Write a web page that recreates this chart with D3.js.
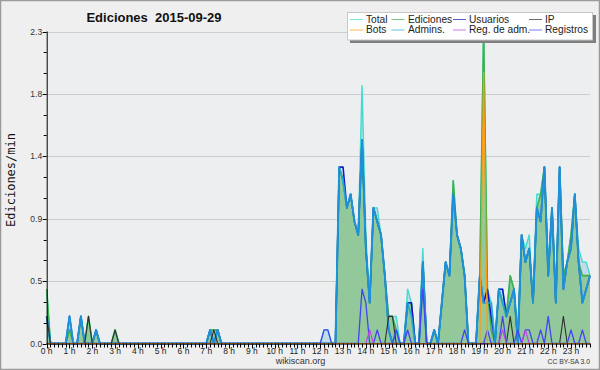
<!DOCTYPE html>
<html><head><meta charset="utf-8">
<script src="https://cdn.jsdelivr.net/npm/d3@7"></script>
<style>body{margin:0;background:#f0f0f0}svg{display:block}</style>
</head><body><svg id="c" width="600" height="370"></svg>
<script>
// ---- data (edits per minute, 10-minute bins, 144 bins from 00:00 to 23:50) ----
const hourLabels = ["0 h","1 h","2 h","3 h","4 h","5 h","6 h","7 h","8 h","9 h","10 h","11 h",
  "12 h","13 h","14 h","15 h","16 h","17 h","18 h","19 h","20 h","21 h","22 h","23 h"];
const binsPerHour = 6;
const total = [
 0.4,0,0,0,0,0,0.2,0,0,0.2,0,0.2,
 0,0.1,0,0,0,0,0.1,0,0,0,0,0,
 0,0,0,0,0,0,0,0,0,0,0,0,
 0,0,0,0,0,0,0,0.1,0.1,0.1,0,0,
 0,0,0,0,0,0,0,0,0,0,0,0,
 0,0,0,0,0,0,0,0,0,0,0,0,
 0,0.1,0.1,0,0,1.3,1.2,1.0,1.1,0.9,0.8,1.9,
 0.8,0.3,1.0,1.0,0.8,0.5,0.2,0.2,0.2,0,0,0.4,
 0.3,0,0,0.7,0,0,0.1,0,0.3,0.6,0.5,1.2,
 0.8,0.7,0.5,0,0,0,0.5,2.3,0.4,0.3,0,0.4,
 0.4,0.2,0.5,0.4,0.1,0.8,0.7,0.8,0.3,1.1,1.1,1.3,
 0.6,1.0,0.4,1.3,0.5,0.6,0.8,1.1,0.7,0.6,0.6,0.5];
const ediciones = [
 0.4,0,0,0,0,0,0.1,0,0,0.2,0,0.2,
 0,0.1,0,0,0,0,0.1,0,0,0,0,0,
 0,0,0,0,0,0,0,0,0,0,0,0,
 0,0,0,0,0,0,0,0.1,0.1,0.1,0,0,
 0,0,0,0,0,0,0,0,0,0,0,0,
 0,0,0,0,0,0,0,0,0,0,0,0,
 0,0,0,0,0,1.3,1.2,1.0,1.1,0.9,0.8,1.5,
 0.7,0.3,1.0,0.9,0.8,0.5,0.2,0.2,0.1,0,0,0.3,
 0.3,0,0,0.6,0,0,0.1,0,0.3,0.6,0.5,1.2,
 0.8,0.7,0.5,0,0,0,0.5,2.3,0.4,0.1,0,0.4,
 0.3,0.2,0.5,0.4,0,0.8,0.6,0.7,0.3,1.0,1.1,1.3,
 0.5,1.0,0.3,1.3,0.5,0.6,0.8,1.1,0.6,0.5,0.5,0.5];
const usuarios = [
 0.2,0,0,0,0,0,0.2,0,0,0.2,0,0,
 0,0.1,0,0,0,0,0,0,0,0,0,0,
 0,0,0,0,0,0,0,0,0,0,0,0,
 0,0,0,0,0,0,0,0.1,0,0.1,0,0,
 0,0,0,0,0,0,0,0,0,0,0,0,
 0,0,0,0,0,0,0,0,0,0,0,0,
 0,0,0,0,0,1.3,1.3,1.0,1.1,0.9,0.8,1.5,
 0.7,0.3,1.0,0.9,0.8,0.5,0.1,0,0,0,0,0.3,
 0.3,0,0,0.6,0,0,0.1,0,0.3,0.6,0.5,1.1,
 0.8,0.7,0.5,0,0,0,0.5,0.3,0.4,0.2,0,0.4,
 0.4,0.2,0.3,0.4,0,0.8,0.6,0.7,0.3,1.0,0.9,1.3,
 0.5,1.0,0.3,1.3,0.4,0.6,0.7,1.1,0.6,0.3,0.4,0.5];
const ip = [
 0.2,0,0,0,0,0,0,0,0,0,0,0.2,
 0,0,0,0,0,0,0.1,0,0,0,0,0,
 0,0,0,0,0,0,0,0,0,0,0,0,
 0,0,0,0,0,0,0,0,0.1,0,0,0,
 0,0,0,0,0,0,0,0,0,0,0,0,
 0,0,0,0,0,0,0,0,0,0,0,0,
 0,0,0,0,0,0,0,0,0,0,0,0,
 0,0,0,0,0,0,0.2,0.2,0,0,0,0,
 0,0,0,0,0,0,0,0,0,0,0,0,
 0,0,0,0,0,0,0,0,0,0,0,0,
 0,0,0.2,0,0,0,0,0,0,0,0,0,
 0,0,0,0,0.2,0,0,0,0,0,0,0];
const bots = [
 0,0,0,0,0,0,0,0,0,0,0,0,
 0,0,0,0,0,0,0,0,0,0,0,0,
 0,0,0,0,0,0,0,0,0,0,0,0,
 0,0,0,0,0,0,0,0,0,0,0,0,
 0,0,0,0,0,0,0,0,0,0,0,0,
 0,0,0,0,0,0,0,0,0,0,0,0,
 0,0,0,0,0,0,0,0,0,0,0,0,
 0,0,0,0,0,0,0,0,0,0,0,0,
 0,0,0,0,0,0,0,0,0,0,0,0,
 0,0,0,0,0,0,0,2.0,0,0,0,0,
 0,0,0,0,0,0,0,0,0,0,0,0,
 0,0,0,0,0,0,0,0,0,0,0,0];
const admins = [
 0.2,0,0,0,0,0,0.2,0,0,0.2,0,0,
 0,0.1,0,0,0,0,0,0,0,0,0,0,
 0,0,0,0,0,0,0,0,0,0,0,0,
 0,0,0,0,0,0,0,0.1,0,0.1,0,0,
 0,0,0,0,0,0,0,0,0,0,0,0,
 0,0,0,0,0,0,0,0,0,0,0,0,
 0,0,0,0,0,1.3,1.2,1.0,1.1,0.9,0.8,1.5,
 0.7,0.3,1.0,0.9,0.8,0.5,0.1,0,0.1,0,0,0.3,
 0.2,0,0,0.6,0,0,0.1,0,0.3,0.6,0.5,1.1,
 0.8,0.7,0.5,0,0,0,0.5,0.3,0.3,0.3,0,0.4,
 0.3,0.2,0.3,0.4,0,0.8,0.6,0.7,0.3,1.0,0.9,1.3,
 0.5,1.0,0.3,1.3,0.4,0.6,0.7,1.1,0.6,0.3,0.4,0.5];
const regAdm = [
 0,0,0,0,0,0,0,0,0,0,0,0,
 0,0,0,0,0,0,0,0,0,0,0,0,
 0,0,0,0,0,0,0,0,0,0,0,0,
 0,0,0,0,0,0,0,0,0,0,0,0,
 0,0,0,0,0,0,0,0,0,0,0,0,
 0,0,0,0,0,0,0,0,0,0,0,0,
 0,0,0,0,0,0,0,0,0,0,0,0,
 0,0.1,0,0,0,0,0,0,0,0,0,0,
 0,0,0,0,0,0,0,0,0,0,0,0,
 0,0,0,0,0,0,0,0,0,0,0,0,
 0.1,0,0,0,0,0,0.1,0,0,0,0,0,
 0,0,0,0,0,0,0,0,0,0,0,0];
const registros = [
 0,0,0,0,0,0,0,0,0,0,0,0,
 0,0,0,0,0,0,0,0,0,0,0,0,
 0,0,0,0,0,0,0,0,0,0,0,0,
 0,0,0,0,0,0,0,0,0,0,0,0,
 0,0,0,0,0,0,0,0,0,0,0,0,
 0,0,0,0,0,0,0,0,0,0,0,0,
 0,0.1,0.1,0,0,0,0,0,0,0,0,0.4,
 0.3,0,0,0.1,0,0,0,0,0.1,0,0,0.1,
 0,0,0,0.4,0,0,0,0,0,0,0,0,
 0,0,0.1,0,0,0,0,0,0.1,0,0,0,
 0.2,0,0,0,0.1,0,0.1,0.1,0,0,0.1,0,
 0.2,0,0,0,0,0,0.1,0,0,0.1,0,0];
const yTickValues = [0, 0.46, 0.92, 1.38, 1.84, 2.3];
const yTickLabels = ["0.0","0.5","0.9","1.4","1.8","2.3"];
const yMax = 2.3;
const titleText = "Ediciones  2015-09-29";
const yAxisTitle = "Ediciones/min";
const legendNames = [["Total","Ediciones","Usuarios","IP"],["Bots","Admins.","Reg. de adm.","Registros"]];

// ---- drawing ----
const svg = d3.select("#c");
const W = 600, H = 370;
const L = 46.7, R = 590, T = 31.5, B = 343.5;
const nBins = total.length;
const x = d3.scaleLinear().domain([0, nBins - 1]).range([L, R]);
const y = d3.scaleLinear().domain([0, yMax]).range([B, T]);

svg.append("rect").attr("x",0.5).attr("y",0.5).attr("width",W-1).attr("height",H-1)
  .attr("fill","#efefef").attr("stroke","#9a9a9a").attr("stroke-width",1.5);
svg.append("rect").attr("x",L).attr("y",T).attr("width",R-L).attr("height",B-T).attr("fill","#eceef0");

// grid
svg.append("g").selectAll("line").data(yTickValues.slice(1)).join("line")
  .attr("x1",L).attr("x2",R).attr("y1",d=>Math.round(y(d))+0.5).attr("y2",d=>Math.round(y(d))+0.5)
  .attr("stroke","#cdcdcd").attr("stroke-width",1);

const idx = d3.range(nBins);
const area = arr => d3.area().x(i=>x(i)).y0(B).y1(i=>y(arr[i]))(idx);
const line = arr => d3.line().x(i=>x(i)).y(i=>y(arr[i]))(idx);

svg.append("path").attr("d", area(total)).attr("fill","#c4dcea");
svg.append("path").attr("d", area(ediciones)).attr("fill","#93c99a");

const styles = {
  total:{c:"#3fdccf",w:1.4},
  ediciones:{c:"#3fb04a",w:1.6},
  usuarios:{c:"#1414c8",w:1.6},
  admins:{c:"#1ea6dc",w:2.0,o:0.85},
  ip:{c:"#303030",w:1.1},
  bots:{c:"#ff9a10",w:1.2},
  regAdm:{c:"#c040e0",w:1.1},
  registros:{c:"#4444f4",w:1.3}
};
const series = [["total",total],["ediciones",ediciones],["usuarios",usuarios],["admins",admins],
  ["ip",ip],["registros",registros],["regAdm",regAdm],["bots",bots]];
series.forEach(([k,arr])=>{
  const s = styles[k];
  svg.append("path").attr("d", line(arr)).attr("fill","none").attr("stroke",s.c)
    .attr("stroke-width",s.w).attr("stroke-opacity",s.o||1).attr("stroke-linejoin","round");
});

// axes
const ax = svg.append("g");
ax.append("line").attr("x1",L).attr("x2",R).attr("y1",B+0.5).attr("y2",B+0.5).attr("stroke","#000");
ax.append("line").attr("x1",L+0.5).attr("x2",L+0.5).attr("y1",T).attr("y2",B+0.5).attr("stroke","#000");
// x ticks
ax.selectAll("line.xt").data(idx).join("line").attr("class","xt")
  .attr("x1",i=>Math.round(x(i))+0.5).attr("x2",i=>Math.round(x(i))+0.5)
  .attr("y1",B).attr("y2",i=> i%binsPerHour===0 ? B+5 : B+4).attr("stroke","#000");
ax.selectAll("text.xl").data(hourLabels).join("text").attr("class","xl")
  .attr("x",(d,h)=>x(h*binsPerHour)).attr("y",354).attr("text-anchor","middle")
  .attr("font-family","Liberation Sans, Arial, sans-serif").attr("font-size",8.5).attr("fill","#222").text(d=>d);
// y ticks
const minor = d3.range(0,16).map(k=>k*yMax/15);
ax.selectAll("line.ym").data(minor).join("line").attr("class","ym")
  .attr("x1",(d,k)=> k%3===0 ? L-4 : L-3).attr("x2",L).attr("y1",d=>Math.round(y(d))+0.5).attr("y2",d=>Math.round(y(d))+0.5)
  .attr("stroke","#000");
ax.selectAll("text.yl").data(yTickValues).join("text").attr("class","yl")
  .attr("x",L-4.5).attr("y",d=>y(d)+3).attr("text-anchor","end")
  .attr("font-family","Liberation Sans, Arial, sans-serif").attr("font-size",8.5).attr("fill","#333")
  .text((d,k)=>yTickLabels[k]);

// titles
svg.append("text").attr("x",154).attr("y",22).attr("text-anchor","middle")
  .attr("font-family","Liberation Sans, Arial, sans-serif").attr("font-weight","bold").attr("font-size",13)
  .attr("fill","#111").attr("xml:space","preserve").style("white-space","pre").text(titleText);
svg.append("text").attr("transform","translate(15,180) rotate(-90)").attr("text-anchor","middle")
  .attr("font-family","DejaVu Sans Mono, monospace").attr("font-size",12).attr("fill","#111").text(yAxisTitle);
svg.append("text").attr("x",300.5).attr("y",364).attr("text-anchor","middle")
  .attr("font-family","Liberation Sans, Arial, sans-serif").attr("font-size",9).attr("fill","#333").text("wikiscan.org");
svg.append("text").attr("x",590).attr("y",364).attr("text-anchor","end")
  .attr("font-family","Liberation Sans, Arial, sans-serif").attr("font-size",6.8).attr("fill","#333").text("CC BY-SA 3.0");

// legend
const lg = svg.append("g");
lg.append("rect").attr("x",350).attr("y",15).attr("width",246).attr("height",28).attr("fill","#7f7f7f");
lg.append("rect").attr("x",347.5).attr("y",12.5).attr("width",245).attr("height",27.5).attr("fill","#fff").attr("stroke","#c8c8c8");
const legendKeys = [["total","ediciones","usuarios","ip"],["bots","admins","regAdm","registros"]];
const colLineX = [350,391.5,453,529];
const colTextX = [366,408,469,545];
const rowY = [19,29.5];
legendNames.forEach((row,r)=>row.forEach((name,cidx)=>{
  const s = styles[legendKeys[r][cidx]];
  lg.append("line").attr("x1",colLineX[cidx]).attr("x2",colLineX[cidx]+13).attr("y1",rowY[r]+0.5).attr("y2",rowY[r]+0.5)
    .attr("stroke",s.c).attr("stroke-width",1).attr("stroke-opacity",0.7);
  lg.append("text").attr("x",colTextX[cidx]).attr("y",rowY[r]+3.8)
    .attr("font-family","Liberation Sans, Arial, sans-serif").attr("font-size",10.2).attr("fill","#222").text(name);
}));
</script></body></html>
